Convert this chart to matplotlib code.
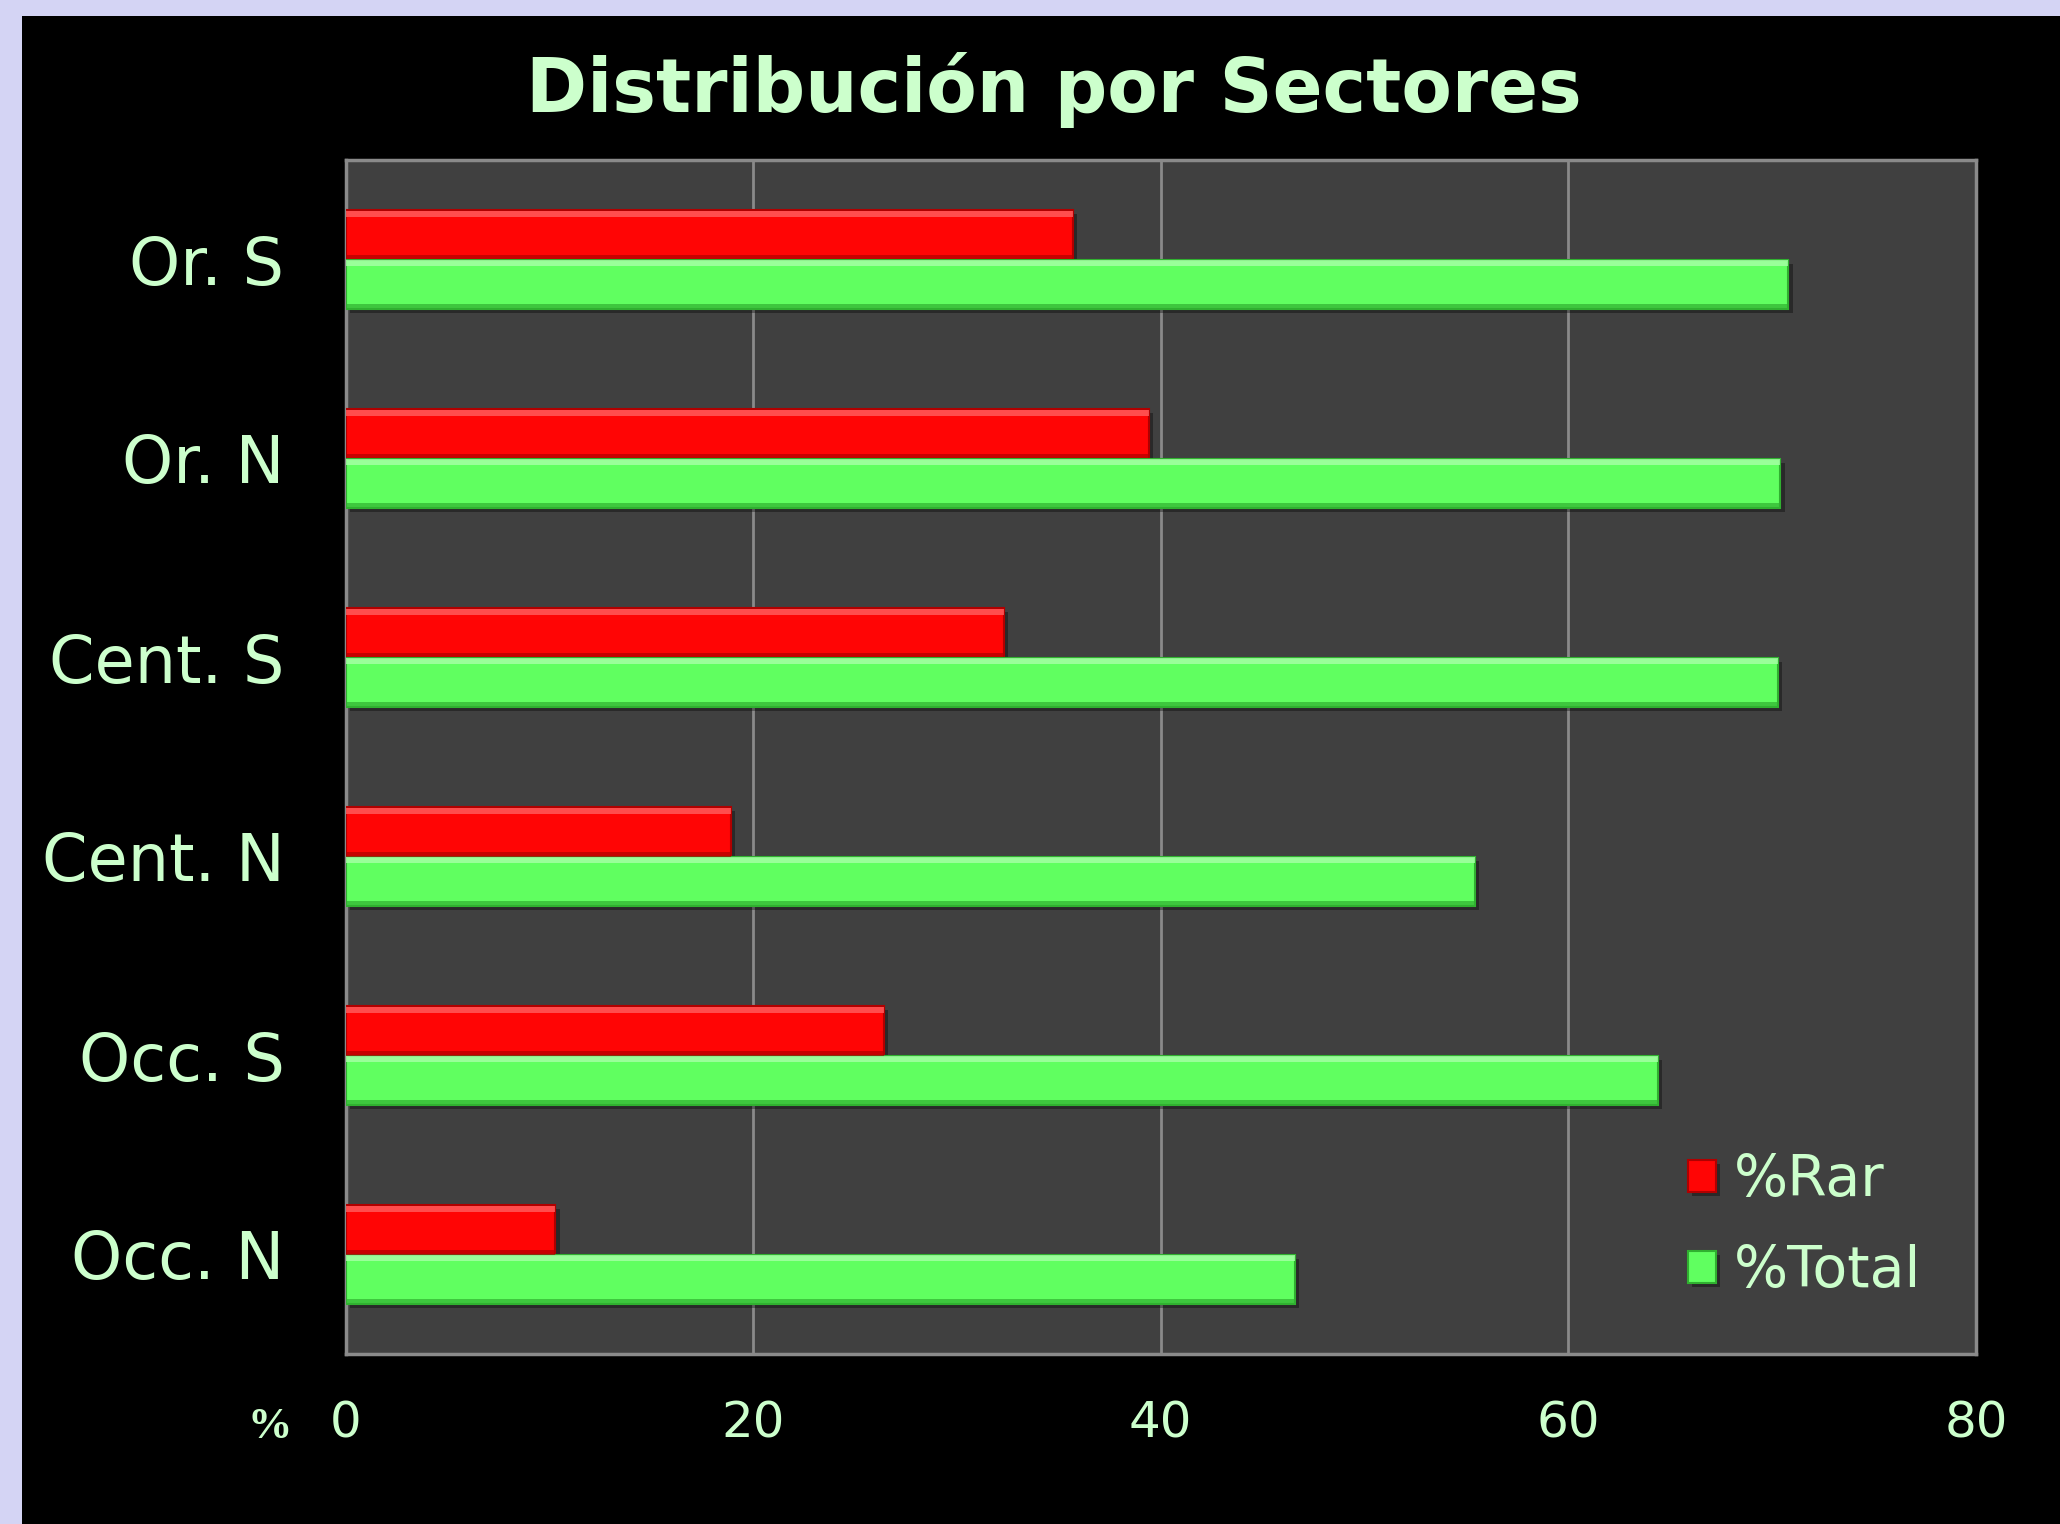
import matplotlib
matplotlib.use("Agg")
import matplotlib.pyplot as plt
import matplotlib.patheffects as pe
from matplotlib.patches import Rectangle
import numpy as np

categories = ["Or. S", "Or. N", "Cent. S", "Cent. N", "Occ. S", "Occ. N"]
pct_rar = [35.7, 39.4, 32.3, 18.9, 26.4, 10.3]
pct_total = [70.8, 70.4, 70.3, 55.4, 64.4, 46.6]
series_names = ["%Rar", "%Total"]
xticks = [0, 20, 40, 60, 80]
title = "Distribución por Sectores"

TXT = "#ccffcc"
RED = "#ff0505"
GREEN = "#60ff60"
W, H = 2060, 1524

fig = plt.figure(figsize=(W / 100, H / 100), dpi=100)
fig.patch.set_facecolor("#d4d4f4")
fig.patches.append(Rectangle((22 / W, 0), 1, (H - 16) / H, transform=fig.transFigure,
                             facecolor="black", edgecolor="none", zorder=-10))

ax = fig.add_axes([345.5 / W, 1 - 1354 / H, (1976 - 345.5) / W, (1354 - 160) / H])
ax.set_facecolor("#404040")
ax.set_zorder(1)

y = np.arange(len(categories))
h = 0.25
shadow = [pe.SimplePatchShadow(offset=(3, -3), shadow_rgbFace="black", alpha=0.35), pe.Normal()]

for vals, col, dark, light, off, name in [
    (pct_rar, RED, "#b00000", "#ff6060", -h / 2, series_names[0]),
    (pct_total, GREEN, "#30b030", "#a8ffa8", h / 2, series_names[1]),
]:
    bars = ax.barh(y + off, vals, height=h, color=col, edgecolor=dark, linewidth=1.5,
                   label=name, zorder=3)
    for b in bars:
        b.set_path_effects(shadow)
    # bevel highlight (top) and shade (bottom)
    ax.barh(y + off - h / 2 + 0.02, vals, height=0.03, color=light, edgecolor="none",
            alpha=0.8, zorder=4)
    ax.barh(y + off + h / 2 - 0.012, vals, height=0.024, color=dark, edgecolor="none",
            alpha=0.7, zorder=4)

ax.set_ylim(len(categories) - 0.5, -0.5)
ax.set_xlim(0, 80)
ax.set_xticks(xticks)
ax.set_xticklabels([str(t) for t in xticks])
ax.set_yticks(y)
ax.set_yticklabels(categories)
ax.grid(axis="x", color="#8a8a8a", linewidth=2, zorder=1)
ax.set_axisbelow(True)
for s in ax.spines.values():
    s.set_color("#8a8a8a")
    s.set_linewidth(2.5)
ax.tick_params(axis="x", length=0, pad=33, labelsize=36, labelcolor=TXT)
ax.tick_params(axis="y", length=0, pad=44, labelsize=47, labelcolor=TXT)

fig.text(1054 / W, 1 - 90 / H, title, ha="center", va="center", fontsize=53,
         fontweight="bold", color=TXT, family="DejaVu Sans")
fig.text(270 / W, 1 - 1427 / H, "%", ha="center", va="center", fontsize=32,
         fontweight="bold", color=TXT, family="Liberation Serif")

leg = ax.legend(loc="center left", bbox_to_anchor=(1688 / W, 1 - 1226 / H),
                bbox_transform=fig.transFigure, frameon=False, fontsize=41,
                handlelength=0.49, handleheight=0.49, handletextpad=0.32,
                labelspacing=0.63, borderpad=0, borderaxespad=0)
for t in leg.get_texts():
    t.set_color(TXT)

fig.savefig("out.png", dpi=100, facecolor=fig.get_facecolor())
